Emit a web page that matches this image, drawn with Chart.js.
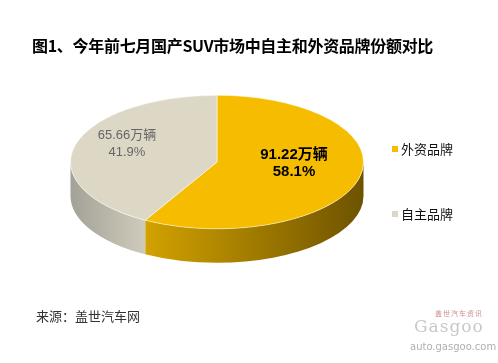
<!DOCTYPE html>
<html>
<head>
<meta charset="utf-8">
<script src="https://cdn.jsdelivr.net/npm/chart.js@4"></script>
<style>
  body { margin: 0; background: #fff; }
  #wrap { position: relative; width: 498px; height: 363px; overflow: hidden; font-family: "Noto Sans CJK SC", sans-serif; }
  #myChart { position: absolute; left: 0; top: 0; }
  .title { position: absolute; left: 32px; top: 33px; font-size: 16px; font-weight: bold; color: #000; letter-spacing: -0.3px; }
  .source { position: absolute; left: 36px; top: 306px; font-size: 13px; color: #333; }
  .legend { position: absolute; left: 392px; font-size: 13px; color: #111; }
  .legend span.box { display: inline-block; width: 6px; height: 6px; margin-right: 3px; vertical-align: middle; position: relative; top: -1px; }
  .wm0 { position: absolute; left: 435px; top: 308px; font-size: 7px; color: #d09090; letter-spacing: 1px; }
  .wm1 { position: absolute; left: 414px; top: 316px; font-family: "DejaVu Serif", serif; font-size: 17px; color: #c8c8c8; letter-spacing: 1px; }
  .wm2 { position: absolute; left: 410px; top: 341px; font-family: "DejaVu Sans", sans-serif; font-size: 10px; color: #b0b0b0; }
</style>
</head>
<body>
<div id="wrap">
  <canvas id="myChart" width="498" height="363"></canvas>
  <div class="title">图1、今年前七月国产SUV市场中自主和外资品牌份额对比</div>
  <div id="legend"></div>
  <div class="source">来源：盖世汽车网</div>
  <div class="wm0">盖世汽车资讯</div>
  <div class="wm1">Gasgoo</div>
  <div class="wm2">auto.gasgoo.com</div>
</div>
<script>
// data (万辆)
var labels = ['外资品牌', '自主品牌'];
var values = [91.22, 65.66];
var colors = ['#F6BD00', '#DCD8C5'];

// 3d look
var squash = 0.456;
var depth = 34;
var sideColors = [['#D2A200', '#6E5300'], ['#A3A297', '#CFCBBB']];

var total = values[0] + values[1];

// legend
var legendTop = [139, 204];
var legendDiv = document.getElementById('legend');
for (let i = 0; i < labels.length; i++) {
  var d = document.createElement('div');
  d.className = 'legend';
  d.style.top = legendTop[i] + 'px';
  d.innerHTML = '<span class="box" style="background:' + colors[i] + '"></span>' + labels[i];
  legendDiv.appendChild(d);
}

var pie3d = {
  id: 'pie3d',
  beforeDatasetsDraw: function(chart) {
    var ctx = chart.ctx;
    var arcs = chart.getDatasetMeta(0).data;
    var cx = arcs[0].x, cy = arcs[0].y, r = arcs[0].outerRadius;
    var ry = r * squash;
    // side walls (front half only)
    for (let i = 0; i < arcs.length; i++) {
      var s = Math.max(arcs[i].startAngle, 0);
      var e = Math.min(arcs[i].endAngle, Math.PI);
      if (e <= s) continue;
      var x1 = cx + r * Math.cos(e), x0 = cx + r * Math.cos(s);
      var g = ctx.createLinearGradient(Math.min(x0, x1), 0, Math.max(x0, x1), 0);
      g.addColorStop(0, sideColors[i][0]);
      g.addColorStop(1, sideColors[i][1]);
      ctx.beginPath();
      ctx.ellipse(cx, cy + depth, r, ry, 0, s, e, false);
      ctx.ellipse(cx, cy, r, ry, 0, e, s, true);
      ctx.closePath();
      ctx.fillStyle = g;
      ctx.fill();
    }
    ctx.save();
    ctx.translate(0, cy);
    ctx.scale(1, squash);
    ctx.translate(0, -cy);
  },
  afterDatasetsDraw: function(chart) {
    var ctx = chart.ctx;
    ctx.restore();
    var arcs = chart.getDatasetMeta(0).data;
    var cx = arcs[0].x, cy = arcs[0].y, r = arcs[0].outerRadius;
    ctx.textAlign = 'center';
    ctx.textBaseline = 'middle';
    for (let i = 0; i < arcs.length; i++) {
      var mid = (arcs[i].startAngle + arcs[i].endAngle) / 2;
      var x = cx + r * 0.6 * Math.cos(mid);
      var y = cy + r * squash * 0.6 * Math.sin(mid) - 8;
      var pct = (values[i] / total * 100).toFixed(1) + '%';
      if (i === 0) {
        ctx.fillStyle = '#000';
        ctx.font = 'bold 15px "Liberation Sans", "Noto Sans CJK SC", sans-serif';
        x -= 8;
        y -= 1;
      } else {
        ctx.fillStyle = '#666';
        ctx.font = '13px "Liberation Sans", "Noto Sans CJK SC", sans-serif';
        x -= 5;
      }
      ctx.fillText(values[i].toFixed(2) + '万辆', x, y - 8);
      ctx.fillText(pct, x, y + 9);
    }
  }
};

var ctx = document.getElementById('myChart').getContext('2d');
var myChart = new Chart(ctx, {
  type: 'pie',
  data: {
    labels: labels,
    datasets: [{
      data: values,
      backgroundColor: colors,
      borderColor: 'rgba(255,255,255,0.7)',
      borderWidth: 1
    }]
  },
  options: {
    responsive: false,
    animation: false,
    layout: { padding: { left: 70, right: 134, top: 15, bottom: 54 } },
    plugins: {
      legend: { display: false },
      tooltip: { enabled: false }
    }
  },
  plugins: [pie3d]
});
</script>
</body>
</html>
